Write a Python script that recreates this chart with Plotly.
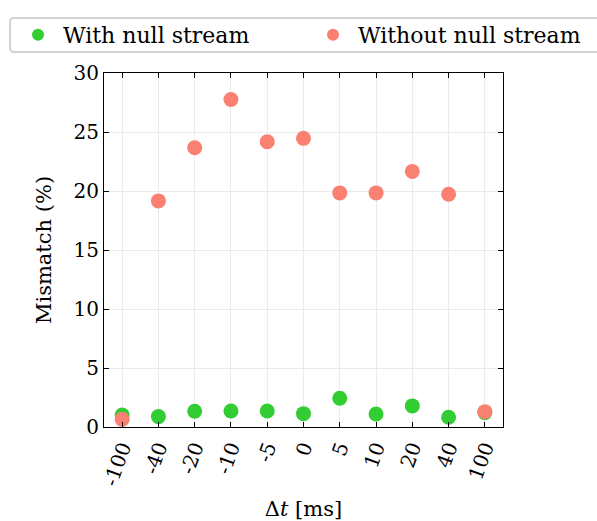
import plotly.graph_objects as go

categories = ["-100", "-40", "-20", "-10", "-5", "0", "5", "10", "20", "40", "100"]
with_null = [1.02, 0.88, 1.33, 1.36, 1.36, 1.13, 2.44, 1.10, 1.79, 0.82, 1.22]
without_null = [0.65, 19.16, 23.67, 27.75, 24.18, 24.46, 19.84, 19.84, 21.66, 19.73, 1.30]

FONT = "DejaVu Serif"
xs = list(range(len(categories)))

# plot area in pixels
L, R, T, B = 104, 503, 73, 427
PW, PH = R - L, B - T
def px(xp): return (xp - L) / PW
def py(yp): return (B - yp) / PH

fig = go.Figure()
fig.add_trace(go.Scatter(x=xs, y=with_null, mode="markers", name="With null stream",
                         marker=dict(color="#32CD32", size=15, line=dict(width=0)),
                         legend="legend"))
fig.add_trace(go.Scatter(x=xs, y=without_null, mode="markers", name="Without null stream",
                         marker=dict(color="#FA8072", size=15, line=dict(width=0)),
                         legend="legend2"))

axis_common = dict(showline=True, linecolor="black", linewidth=1, mirror="ticks",
                   ticks="inside", ticklen=5, tickcolor="black", tickwidth=1,
                   showgrid=True, gridcolor="#ebebeb", gridwidth=1, zeroline=False,
                   automargin=False,
                   tickfont=dict(family=FONT, size=20, color="black"))

fig.update_xaxes(**axis_common, tickmode="array", tickvals=xs, ticktext=categories,
                 tickangle=-70, range=[-0.5, 10.5],
                 title=dict(text="Δ<i>t</i> [ms]", font=dict(family=FONT, size=21, color="black"), standoff=14))
fig.update_yaxes(**axis_common, range=[0, 30], tickvals=[0, 5, 10, 15, 20, 25, 30],
                 title=dict(text="Mismatch (%)", font=dict(family=FONT, size=21, color="black"), standoff=16))

leg_common = dict(orientation="h", yanchor="middle", bgcolor="rgba(0,0,0,0)", borderwidth=0,
                  font=dict(family=FONT, size=22, color="black"), itemsizing="constant",
                  itemwidth=40)

# legend frame (rounded rectangle)
x0, x1, y0, y1, r = 10, 612, 18, 52, 4
path = (f"M {px(x0+r)},{py(y0)} L {px(x1-r)},{py(y0)} Q {px(x1)},{py(y0)} {px(x1)},{py(y0+r)} "
        f"L {px(x1)},{py(y1-r)} Q {px(x1)},{py(y1)} {px(x1-r)},{py(y1)} "
        f"L {px(x0+r)},{py(y1)} Q {px(x0)},{py(y1)} {px(x0)},{py(y1-r)} "
        f"L {px(x0)},{py(y0+r)} Q {px(x0)},{py(y0)} {px(x0+r)},{py(y0)} Z")

fig.update_layout(
    width=597, height=521,
    margin=dict(l=L, r=597 - R, t=T, b=521 - B, autoexpand=False),
    paper_bgcolor="white", plot_bgcolor="white",
    font=dict(family=FONT, size=20, color="black"),
    legend=dict(**leg_common, x=px(13), y=py(35), xanchor="left"),
    legend2=dict(**leg_common, x=px(308), y=py(35), xanchor="left"),
    showlegend=True,
    shapes=[dict(type="path", xref="paper", yref="paper", path=path,
                 line=dict(color="#d3d3d3", width=2), fillcolor="rgba(0,0,0,0)", layer="below")],
)

fig.write_html("out.html")
